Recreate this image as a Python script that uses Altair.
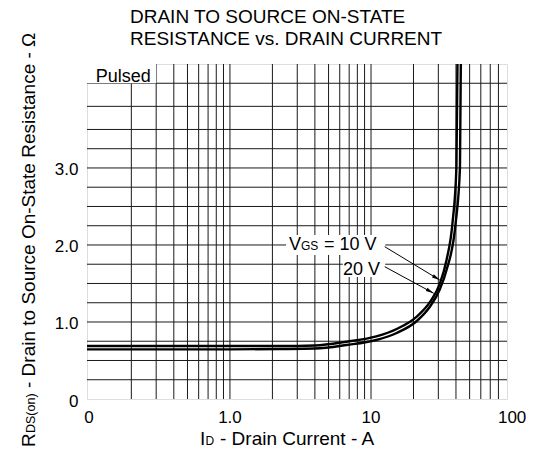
import altair as alt
import pandas as pd

FONT = "Liberation Sans"
INK = "#000000"
NB = "\u00a0"

# On-state resistance (ohm) vs drain current (A), pulsed, two gate voltages
i_10v = [0.097, 1.0, 2.25, 4.0, 6.7, 10.9, 15.2, 21.1, 26.2, 30.7, 34.3, 37.8, 40.3, 41.0]
r_10v = [0.688, 0.688, 0.688, 0.695, 0.744, 0.812, 0.909, 1.071, 1.26, 1.494, 1.805, 2.286, 3.01, 4.35]
i_20v = [0.097, 1.0, 2.25, 4.0, 6.7, 10.9, 15.2, 21.1, 26.2, 30.7, 34.3, 39.8, 42.7, 43.3]
r_20v = [0.645, 0.645, 0.649, 0.655, 0.701, 0.766, 0.857, 1.013, 1.201, 1.422, 1.675, 2.286, 3.01, 4.35]

# Grid lines of the log-linear chart paper
x_grid = [0.2, 0.3, 0.4, 0.5, 0.6, 0.7, 0.8, 0.9, 1,
          2, 3, 4, 5, 6, 7, 8, 9, 10,
          20, 30, 40, 50, 60, 70, 80]
y_grid = [0.25, 0.5, 0.75, 1.0, 1.25, 1.5, 1.75, 2.0, 2.25, 2.5, 2.75,
          3.0, 3.25, 3.5, 3.8, 4.1]

x_tick_values = [0.1, 1, 10, 100]
x_tick_labels = ["0", "1.0", "10", "100"]
y_tick_values = [0, 1, 2, 3]

X_DOMAIN = [0.097, 92]
Y_DOMAIN = [0, 4.35]
W, H = 420, 335

xs = alt.Scale(type="log", domain=X_DOMAIN, nice=False)
ys = alt.Scale(domain=Y_DOMAIN, nice=False, zero=False)
y_axis = alt.Axis(values=y_tick_values, labelExpr="datum.value == 0 ? '0' : format(datum.value, '.1f')",
                  labelFont=FONT, labelFontSize=17, labelColor=INK, labelPadding=9,
                  labelOffset=2, ticks=False, tickSize=0, domain=False, grid=False, title=None)


def X(field):
    return alt.X(field, type="quantitative", scale=xs, axis=None)


def Y(field):
    return alt.Y(field, type="quantitative", scale=ys, axis=y_axis)


curves = pd.DataFrame({
    "I": i_10v + i_20v,
    "R": r_10v + r_20v,
    "vgs": ["10 V"] * len(i_10v) + ["20 V"] * len(i_20v),
})

vgrid = alt.Chart(pd.DataFrame({"v": x_grid})).mark_rule(color="#1a1a1a", strokeWidth=1).encode(x=X("v"))
hgrid = alt.Chart(pd.DataFrame({"v": y_grid})).mark_rule(color="#1a1a1a", strokeWidth=1).encode(y=Y("v"))

# white boxes behind the in-plot labels
boxes = pd.DataFrame({
    "x": [0.097, 2.5, 6.3],
    "x2": [0.3, 12.6, 12.6],
    "y": [4.1, 1.87, 1.584],
    "y2": [4.35, 2.13, 1.87],
})
box_layer = alt.Chart(boxes).mark_rect(fill="white", stroke=None).encode(
    x=X("x"), x2="x2", y=Y("y"), y2="y2")

lines = alt.Chart(curves).mark_line(interpolate="monotone", clip=True, color=INK, strokeWidth=2.4).encode(
    x=X("I"), y=Y("R"), detail="vgs:N")

# leader arrows from the labels to the curves
arrows = pd.DataFrame({
    "x": [12.5, 12.5], "y": [1.978, 1.718],
    "x2": [30.7, 27.8], "y2": [1.545, 1.373],
    "ang": [121.2, 118.5],
})
arrow_lines = alt.Chart(arrows).mark_rule(color=INK, strokeWidth=1).encode(
    x=X("x"), y=Y("y"), x2="x2", y2="y2")
arrow_heads = alt.Chart(arrows).mark_point(
    shape="M0,0L0.45,2L-0.45,2Z", filled=True, color=INK, opacity=1, size=64, strokeWidth=0).encode(
    x=X("x2"), y=Y("y2"), angle=alt.Angle("ang:Q", scale=None))

label_df = pd.DataFrame({
    "x": [2.62, 2.62, 2.62, 11.6, 0.112],
    "y": [1.935, 1.935, 1.935, 1.61, 4.1],
    "t": ["V", "GS", "=" + NB + "10" + NB + "V", "20" + NB + "V", "Pulsed"],
    "dx": [0, 12, 35, 0, 0],
    "dy": [0, 0, 0, 0, -1],
    "size": [18, 12, 18, 18, 18],
    "align": ["left", "left", "left", "right", "left"],
})
labels = []
for _, row in label_df.iterrows():
    labels.append(
        alt.Chart(pd.DataFrame([row])).mark_text(
            font=FONT, fontSize=int(row["size"]), color=INK, align=row["align"], baseline="alphabetic",
            dx=float(row["dx"]), dy=float(row["dy"])).encode(x=X("x"), y=Y("y"), text="t:N"))

xticks = alt.Chart(pd.DataFrame({"v": x_tick_values, "t": x_tick_labels})).mark_text(
    font=FONT, fontSize=17, color=INK, baseline="middle", align="center").encode(
    x=X("v"), y=alt.value(H + 19), text="t:N")


# title and axis titles (with subscripts) placed around the plot frame
def txt(s, x, y, size, angle=0, align="left"):
    kw = dict(font=FONT, fontSize=size, color=INK, align=align, baseline="alphabetic")
    if angle:
        kw["angle"] = angle
    return alt.Chart(pd.DataFrame({"t": [s]})).mark_text(**kw).encode(
        x=alt.value(x), y=alt.value(y), text="t:N")


title_layers = [
    txt("DRAIN TO SOURCE ON-STATE", 43, -41, 19),
    txt("RESISTANCE vs. DRAIN CURRENT", 43, -19, 19),
    txt("I", 113, 381, 19),
    txt("D", 118.5, 381, 12),
    txt("-" + NB + "Drain Current - A", 133, 381, 19),
    txt("R", -52, 383, 19, angle=270),
    txt("DS(on)", -52, 369, 12.5, angle=270),
    txt("-" + NB + "Drain to Source On-State Resistance - Ω", -52, 324, 19, angle=270),
]

chart = alt.layer(
    vgrid, hgrid, box_layer, lines, arrow_lines, arrow_heads, xticks, *labels, *title_layers
).properties(
    width=W, height=H,
    padding={"left": 87, "top": 64, "right": 27, "bottom": 53},
    autosize=alt.AutoSizeParams(type="none"),
).configure_view(stroke="#111111", strokeWidth=2).configure(background="white")

chart.save("out.html", embed_options={"renderer": "svg", "actions": False})
